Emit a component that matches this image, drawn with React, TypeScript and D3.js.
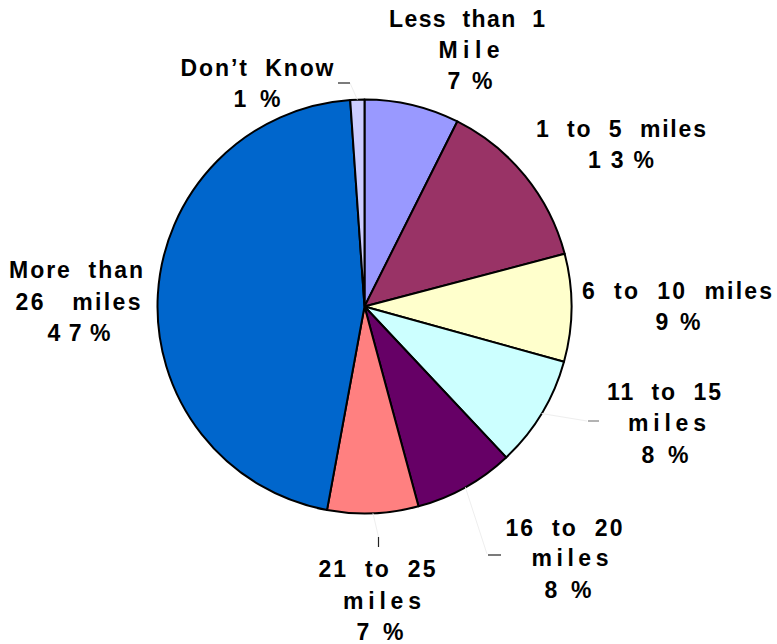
import React from 'react';
import * as d3 from 'd3';

const categories = ['Less than 1 Mile', '1 to 5 miles', '6 to 10 miles', '11 to 15 miles', '16 to 20 miles', '21 to 25 miles', 'More than 26 miles', "Don't Know"];
const values = [7.4, 13.5, 8.4, 8.7, 7.8, 7.1, 46.0, 1.1];
const labelLines = [
  ['Less  than  1', 'Mile', '7 %'],
  ['1  to  5  miles', '1 3 %'],
  ['6  to  10  miles', '9 %'],
  ['11  to  15', 'miles', '8 %'],
  ['16  to  20', 'miles', '8 %'],
  ['21  to  25', 'miles', '7 %'],
  ['More  than', '26   miles', '4 7 %'],
  ['Don\u2019t  Know', '1 %'],
];
const colors = ['#9999FF', '#993366', '#FFFFCC', '#CCFFFF', '#660066', '#FF8080', '#0066CC', '#CCCCFF'];

// layout: [centerX, baselineY, width] per line
const labelLayout: number[][][] = [
  [[467, 27, 156], [469, 58, 61], [470, 89, 45]],
  [[621, 137, 170], [621, 168, 66]],
  [[677, 299, 190], [678, 330, 45]],
  [[664, 400, 114], [667, 431, 78], [665, 463, 47]],
  [[564, 536, 117], [570, 566, 77], [568, 598, 47]],
  [[377, 577, 117], [382, 609, 78], [380, 640, 47]],
  [[76, 278, 134], [78, 310, 125], [79, 341, 63]],
  [[257, 76, 153], [257, 107, 47]],
];

// leader lines: [slice index, bendX, bendY, dash x1, y1, x2, y2, dash color]
const leaders: [number, number, number, number, number, number, number, string][] = [
  [3, 587, 421, 588, 421, 599, 421, '#808080'],
  [4, 487, 554, 488, 555, 501, 555, '#222'],
  [5, 378.5, 537, 378.5, 537, 378.5, 547, '#222'],
  [7, 350, 83, 338, 83, 350, 83, '#222'],
];

const W = 777, H = 644;
const cx = 364.5, cy = 306.5, R = 207;

export default function App() {
  const pie = d3.pie<number>().sort(null).value((d) => d);
  const arcs = pie(values);
  const arc = d3.arc<d3.PieArcDatum<number>>().innerRadius(0).outerRadius(R);
  const edge = d3.arc<d3.PieArcDatum<number>>().innerRadius(R).outerRadius(R);

  return (
    <svg width={W} height={H} style={{ position: 'absolute', left: 0, top: 0, background: '#fff' }}
      fontFamily="'Liberation Sans', Arial, sans-serif">
      <rect width={W} height={H} fill="#fff" />
      <g transform={`translate(${cx},${cy})`}>
        {arcs.map((a, i) => (
          <path key={categories[i]} d={arc(a) || ''} fill={colors[i]} stroke="#000" strokeWidth={2} strokeLinejoin="round" />
        ))}
      </g>
      {leaders.map(([idx, bx, by, x1, y1, x2, y2, col]) => {
        const [ex, ey] = edge.centroid(arcs[idx]);
        return (
          <g key={'ld' + idx}>
            <line x1={cx + ex} y1={cy + ey} x2={bx} y2={by} stroke="#eeeeee" strokeWidth={1} />
            <line x1={x1} y1={y1} x2={x2} y2={y2} stroke={col} strokeWidth={1.2} />
          </g>
        );
      })}
      {labelLines.map((lines, i) => (
        <g key={'lb' + i}>
          {lines.map((t, j) => {
            const [x, y, w] = labelLayout[i][j];
            return (
              <text key={j} x={x} y={y} textAnchor="middle" fontSize={23} fontWeight="bold" fill="#000"
                textLength={w} lengthAdjust="spacing" style={{ whiteSpace: 'pre' }}>
                {t}
              </text>
            );
          })}
        </g>
      ))}
    </svg>
  );
}
